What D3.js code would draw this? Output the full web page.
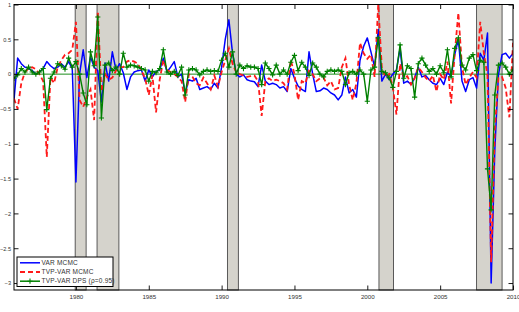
<!DOCTYPE html>
<html><head><meta charset="utf-8">
<script src="https://cdn.jsdelivr.net/npm/d3@7"></script>
<style>
html,body{margin:0;padding:0;background:#fff;}
svg{display:block;font-family:"Liberation Sans",Arial,sans-serif;}
</style></head>
<body><svg id="c" width="519" height="312"></svg>
<script>
// ---- data ----
const startYear = 1975.75; // first quarter plotted, quarterly steps
const varMCMC = [-0.37,0.23,0.15,0.1,0.08,0.05,0.0,0.03,0.08,0.18,0.12,0.08,0.1,0.15,0.1,0.18,0.08,-1.55,0.0,0.35,
 -0.05,0.25,0.1,0.05,-0.4,0.16,-0.1,0.32,0.06,0.15,0.02,-0.22,-0.04,0.03,0.05,0.06,-0.1,0.06,-0.04,0.04,
 0.06,0.23,0.03,0.1,0.18,-0.04,0.0,-0.27,-0.08,-0.1,-0.06,-0.22,-0.2,-0.18,-0.22,-0.13,-0.2,0.1,0.5,0.78,
 0.3,0.0,-0.04,-0.01,-0.08,-0.1,-0.11,-0.18,0.13,-0.1,-0.15,-0.13,-0.15,-0.2,-0.18,-0.25,0.08,-0.06,-0.17,-0.22,
 -0.25,0.32,0.0,-0.25,-0.24,-0.2,-0.22,-0.27,-0.3,-0.37,-0.3,-0.04,-0.27,-0.22,-0.33,0.2,0.4,0.52,0.32,0.1,
 0.64,-0.1,0.0,-0.08,0.0,0.06,0.37,-0.13,-0.1,-0.15,-0.05,0.1,-0.04,-0.02,-0.08,-0.13,-0.15,-0.06,-0.15,0.03,
 -0.04,0.28,0.5,-0.1,-0.25,-0.08,-0.05,-0.2,0.3,0.2,0.59,-3.0,-1.1,-0.01,0.28,0.3,0.23,0.3];
const tvpMCMC = [-0.35,-0.5,-0.13,0.03,0.08,0.1,0.07,0.0,-0.1,-1.19,-0.05,-0.13,0.1,0.2,0.28,0.3,0.35,0.75,-0.37,-0.47,
 -0.33,-0.22,-0.66,0.9,-0.25,0.0,-0.08,-0.05,0.05,0.1,0.1,0.18,0.2,0.18,0.15,0.05,-0.06,-0.3,-0.02,-0.55,
 -0.08,0.2,0.06,0.03,0.0,-0.04,-0.1,-0.4,0.0,-0.04,-0.13,-0.16,-0.05,-0.13,-0.22,-0.02,-0.18,0.03,0.2,0.37,
 0.15,0.03,0.0,-0.02,-0.04,-0.03,-0.02,-0.1,-0.6,-0.1,-0.06,-0.1,-0.08,-0.1,-0.13,-0.22,0.2,0.0,-0.37,-0.1,
 -0.13,0.05,0.0,-0.1,-0.06,-0.05,-0.16,-0.1,-0.22,-0.2,0.1,0.23,-0.15,-0.37,-0.13,0.45,0.3,0.22,0.28,-0.04,
 1.0,0.08,-0.04,0.0,-0.18,-0.58,0.15,-0.05,-0.03,-0.15,-0.06,0.1,0.03,-0.05,-0.1,-0.02,-0.25,0.0,-0.08,0.18,
 -0.42,0.3,0.88,0.1,-0.15,-0.05,0.03,-0.05,0.75,0.3,-0.02,-2.7,-0.8,-0.05,-0.04,-0.2,-0.62,0.45];
const tvpDPS = [-0.06,-0.01,0.08,0.03,0.1,0.03,0.0,0.03,0.08,-0.51,-0.06,0.03,0.15,0.12,0.07,0.23,0.1,0.18,0.0,-0.27,
 -0.44,0.32,0.12,0.82,-0.63,0.13,0.16,0.05,0.1,0.0,0.3,0.1,0.13,0.12,0.1,0.08,0.06,-0.1,0.04,0.02,
 0.08,0.35,0.03,0.0,0.04,-0.02,0.1,-0.3,0.06,0.08,0.06,-0.01,0.04,0.06,0.04,0.05,0.04,0.2,0.3,0.1,
 0.32,0.0,0.13,0.08,0.12,0.1,0.1,0.08,-0.15,0.16,0.08,-0.01,0.13,0.0,0.06,0.0,0.17,0.27,0.05,0.17,
 0.1,-0.02,0.16,0.1,0.0,-0.04,0.04,0.06,0.04,0.06,0.04,-0.15,0.02,0.04,0.0,0.06,0.0,-0.39,0.06,0.1,
 0.52,0.04,0.02,-0.05,-0.19,0.04,0.42,-0.06,0.12,0.08,-0.33,0.15,0.23,0.13,0.04,0.08,0.0,0.12,0.02,0.35,
 -0.04,0.37,0.52,0.13,0.06,0.23,0.28,0.05,0.2,0.17,-1.36,-1.95,-0.3,0.13,0.16,0.1,0.0,0.06];
const recessionStart = [1979.95, 1981.45, 1990.4, 2000.8, 2007.5];
const recessionEnd   = [1980.7, 1982.95, 1991.15, 2001.8, 2009.25];
const xTicks = [1980, 1985, 1990, 1995, 2000, 2005, 2010];
const yTicks = [1, 0.5, 0, -0.5, -1, -1.5, -2, -2.5, -3];
const seriesNames = ["VAR MCMC", "TVP-VAR MCMC", "TVP-VAR DPS (\u03C1=0.95)"];

// ---- chart ----
const svg = d3.select("#c");
const L = 14, R = 513, T = 4.5, B = 290;
const x = d3.scaleLinear().domain([1975.75, 2010.0]).range([L, R]);
const y = d3.scaleLinear().domain([-3.1, 1]).range([B, T]);
const dateOf = i => startYear + i * 0.25;

svg.append("defs").append("clipPath").attr("id","clip")
  .append("rect").attr("x",L).attr("y",T).attr("width",R-L).attr("height",B-T);

// recession bars
svg.append("g").selectAll("rect").data(recessionStart).join("rect")
  .attr("x", (d)=>x(d)).attr("y", T)
  .attr("width", (d,i)=>x(recessionEnd[i])-x(d)).attr("height", B-T)
  .attr("fill", "#d5d3cc").attr("stroke", "#4a4a4a").attr("stroke-width", 0.9);

const plot = svg.append("g").attr("clip-path","url(#clip)");

// zero line
plot.append("line").attr("x1",L).attr("x2",R).attr("y1",y(0)).attr("y2",y(0))
  .attr("stroke","#008000").attr("stroke-width",0.9);

const line = d3.line().x((d,i)=>x(dateOf(i))).y(d=>y(d));

plot.append("path").datum(varMCMC).attr("d", line)
  .attr("fill","none").attr("stroke","#0000ff").attr("stroke-width",1.5).attr("stroke-linejoin","round");
plot.append("path").datum(tvpMCMC).attr("d", line)
  .attr("fill","none").attr("stroke","#ff1a1a").attr("stroke-width",1.8)
  .attr("stroke-dasharray","5,3");
plot.append("path").datum(tvpDPS).attr("d", line)
  .attr("fill","none").attr("stroke","#008000").attr("stroke-width",1.4).attr("stroke-linejoin","round");
// plus markers
const ms = 2.6;
plot.append("g").selectAll("path").data(tvpDPS).join("path")
  .attr("d", (d,i)=>{const cx=x(dateOf(i)), cy=y(d);
     return `M${cx-ms},${cy}H${cx+ms}M${cx},${cy-ms}V${cy+ms}`;})
  .attr("stroke","#008000").attr("stroke-width",1.1).attr("fill","none");

// frame
svg.append("rect").attr("x",L).attr("y",T).attr("width",R-L).attr("height",B-T)
  .attr("fill","none").attr("stroke","#000").attr("stroke-width",1);

// axes
const tk = 4.5;
const gY = svg.append("g").attr("transform",`translate(${L},0)`)
  .call(d3.axisLeft(y).tickValues(yTicks).tickSizeInner(-tk).tickSizeOuter(0).tickPadding(3).tickFormat(d3.format("")));
const gYR = svg.append("g").attr("transform",`translate(${R},0)`)
  .call(d3.axisRight(y).tickValues(yTicks).tickSizeInner(-tk).tickSizeOuter(0).tickFormat(""));
const gX = svg.append("g").attr("transform",`translate(0,${B})`)
  .call(d3.axisBottom(x).tickValues(xTicks).tickSizeInner(-tk).tickSizeOuter(0).tickPadding(5).tickFormat(d3.format("d")));
const gXT = svg.append("g").attr("transform",`translate(0,${T})`)
  .call(d3.axisTop(x).tickValues(xTicks).tickSizeInner(-tk).tickSizeOuter(0).tickFormat(""));
[gY,gYR,gX,gXT].forEach(g=>{
  g.select(".domain").remove();
  g.selectAll(".tick line").attr("stroke","#000").attr("stroke-width",0.9);
  g.selectAll("text").attr("font-size",6.2).attr("fill","#333")
    .attr("font-family","'Liberation Sans',Arial,sans-serif");
});
gY.selectAll("text").attr("font-size",5.6);
gX.selectAll("text").attr("dy","0.71em");

// legend
const lg = svg.append("g");
lg.append("rect").attr("x",17).attr("y",257).attr("width",96).attr("height",29.5)
  .attr("fill","#fff").attr("stroke","#000").attr("stroke-width",1);
const colors = ["#0000ff","#ff1a1a","#008000"];
const dashes = [null,"5,3",null];
const rowY = [262.8, 272, 281.2];
seriesNames.forEach((n,i)=>{
  lg.append("line").attr("x1",20).attr("x2",40).attr("y1",rowY[i]).attr("y2",rowY[i])
    .attr("stroke",colors[i]).attr("stroke-width",i===1?1.8:1.5).attr("stroke-dasharray",dashes[i]);
  if(i===2){
    lg.append("path").attr("d",`M${30-ms},${rowY[i]}H${30+ms}M30,${rowY[i]-ms}V${rowY[i]+ms}`)
      .attr("stroke",colors[i]).attr("stroke-width",1.1);
  }
  lg.append("text").attr("x",41.5).attr("y",rowY[i]).attr("dy","0.35em")
    .attr("font-size",6.5).attr("fill","#333").attr("letter-spacing","0.2")
    .text(n);
});
</script></body></html>
